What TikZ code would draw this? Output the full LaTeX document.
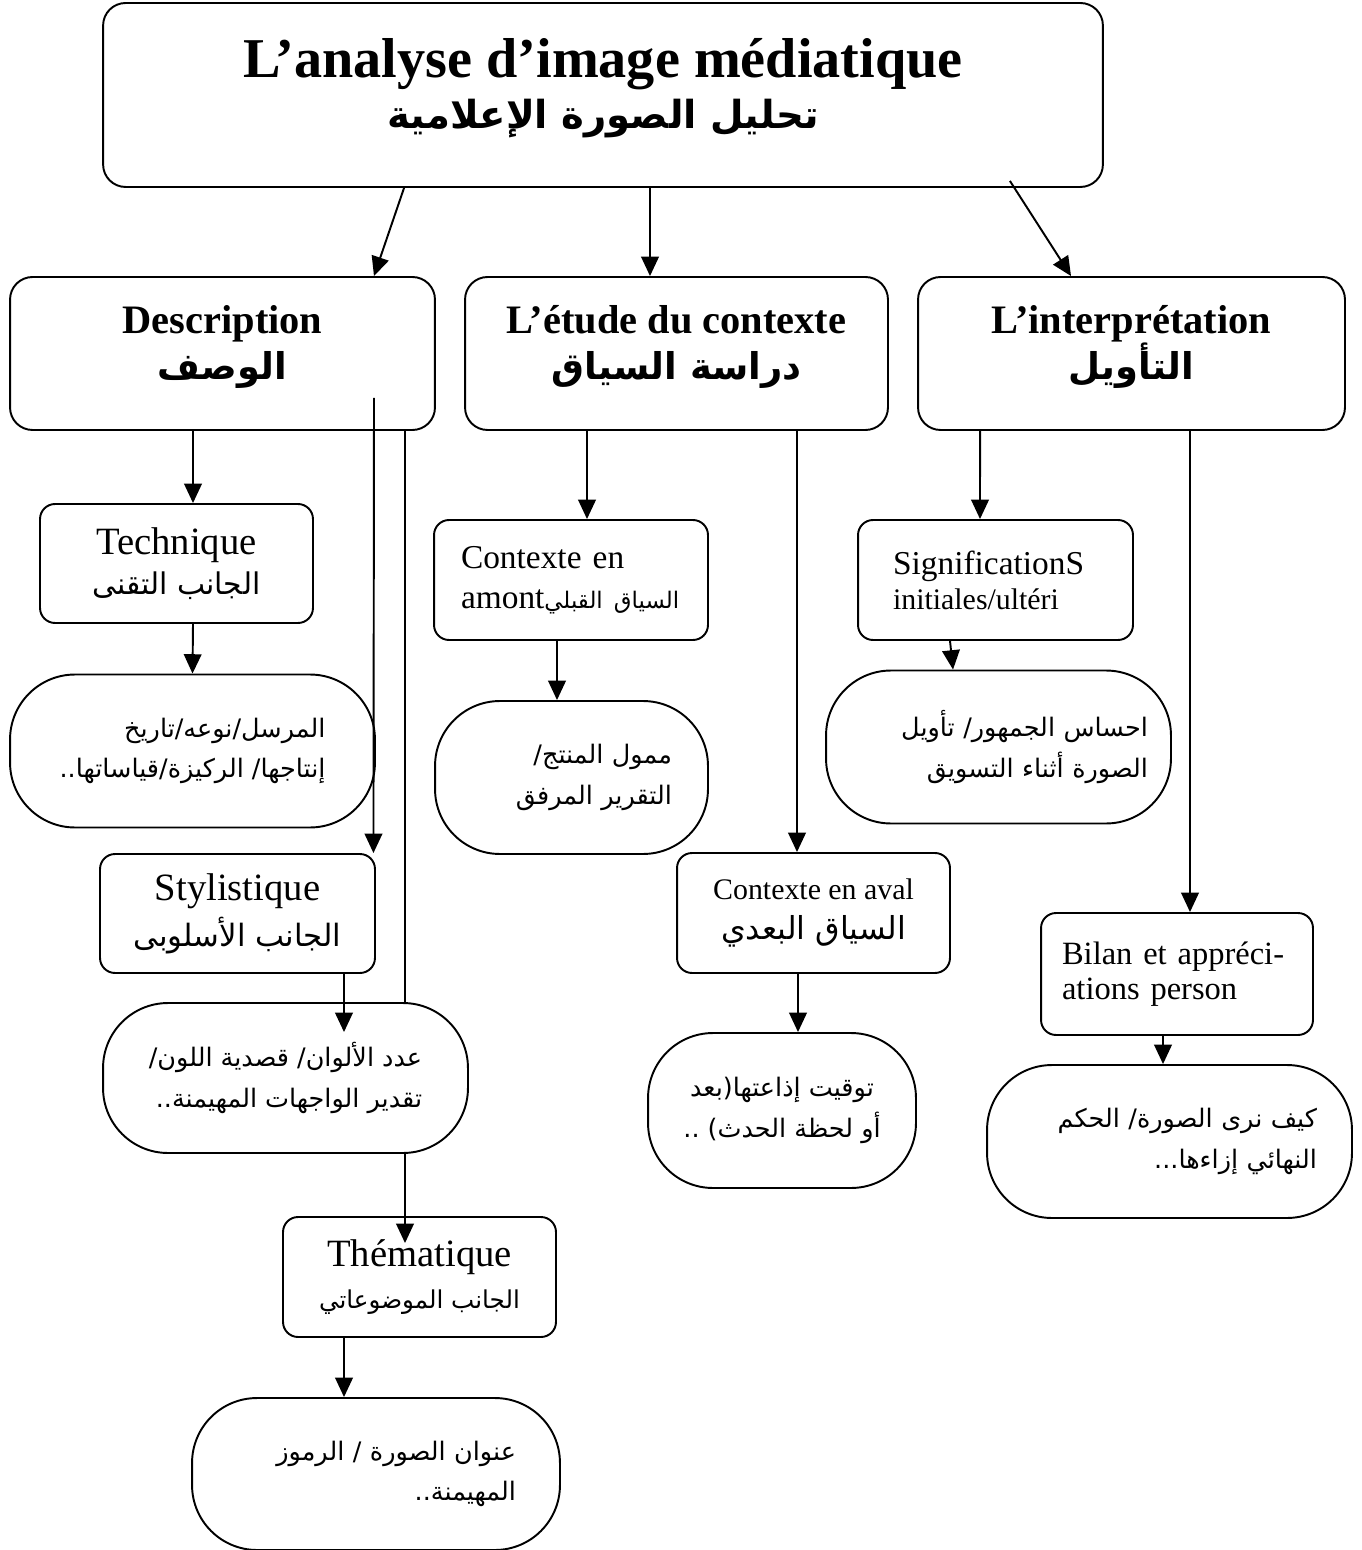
\documentclass[tikz,border=0pt]{standalone}
\usepackage{fontspec}
\setmainfont{Liberation Serif}
\newfontfamily\arabicfont[Script=Arabic]{DejaVu Sans}
\TeXXeTstate=1
\usetikzlibrary{arrows.meta}

\begin{document}
\begin{tikzpicture}[x=0.02cm,y=-0.02cm,
    box/.style={draw,line width=1.1pt,fill=white,inner sep=2pt},
    bigbox/.style={box,rounded corners=0.45cm,text depth=0.45cm},
    smallbox/.style={box,rounded corners=0.3cm,minimum width=5.46cm,minimum height=2.38cm},
    pill/.style={box,rounded corners=1.3cm,minimum height=3.06cm},
    artext/.style={font=\arabicfont\fontsize{14.5}{23}\selectfont},
    arr/.style={line width=1.1pt,-{Triangle[length=11pt,width=10pt]}}]
  \useasboundingbox (0,0) rectangle (1361,1550);

  \node[bigbox,minimum width=20cm,minimum height=3.68cm,align=center,
        font=\bfseries\fontsize{32}{29}\selectfont] (title) at (603,95)
    {L’analyse d’image médiatique\\
     {\arabicfont\fontsize{22}{29}\selectfont\beginR تحليل الصورة الإعلامية\endR}};

  \node[bigbox,minimum width=8.5cm,minimum height=3.06cm,align=center,
        font=\bfseries\fontsize{23}{26}\selectfont] (desc) at (222.5,353.5)
    {Description\\{\arabicfont\fontsize{21}{26}\selectfont\beginR الوصف\endR}};
  \node[bigbox,minimum width=8.46cm,minimum height=3.06cm,align=center,
        font=\bfseries\fontsize{23}{26}\selectfont] (etude) at (676.5,353.5)
    {L’étude du contexte\\{\arabicfont\fontsize{21}{26}\selectfont\beginR دراسة السياق\endR}};
  \node[bigbox,minimum width=8.54cm,minimum height=3.06cm,align=center,
        font=\bfseries\fontsize{23}{26}\selectfont] (interp) at (1131.5,353.5)
    {L’interprétation\\{\arabicfont\fontsize{21}{26}\selectfont\beginR التأويل\endR}};

  \node[smallbox,align=center,font=\fontsize{22}{23}\selectfont] (tech) at (176.5,563.5)
    {Technique\\{\arabicfont\fontsize{17}{23}\selectfont\beginR الجانب التقنى\endR}};
  \node[pill,minimum width=7.3cm,align=right,artext] (techd) at (192.5,751)
    {\beginR المرسل/نوعه/تاريخ\endR\\\beginR إنتاجها/ الركيزة/قياساتها..\endR};

  \node[smallbox,minimum width=5.5cm,align=center,font=\fontsize{22}{26}\selectfont] (styl) at (237.5,913.5)
    {Stylistique\\{\arabicfont\fontsize{17.5}{26}\selectfont\beginR الجانب الأسلوبى\endR}};
  \node[pill,minimum width=7.3cm,minimum height=3.0cm,align=right,artext] (styld) at (285.5,1078)
    {\beginR عدد الألوان/ قصدية اللون/\endR\\\beginR تقدير الواجهات المهيمنة..\endR};

  \node[smallbox,minimum height=2.4cm,align=center,font=\fontsize{22}{24}\selectfont] (them) at (419.5,1277)
    {Thématique\\{\arabicfont\fontsize{14}{24}\selectfont\beginR الجانب الموضوعاتي\endR}};
  \node[pill,minimum width=7.36cm,minimum height=3.04cm,text width=5.6cm,align=right,artext] (themd) at (376,1474)
    {\beginR عنوان الصورة / الرموز\endR\\\beginR المهيمنة..\endR};

  \node[smallbox,minimum width=5.48cm,minimum height=2.4cm,text width=4.4cm,align=left,
        font=\fontsize{19}{23}\selectfont] (amont) at (571,580)
    {Contexte en\\amont{\arabicfont\fontsize{13}{23}\selectfont\beginR السياق القبلي\endR}};
  \node[pill,minimum width=5.46cm,text width=4.02cm,align=right,artext] (amontd) at (571.5,777.5)
    {\beginR ممول المنتج/\endR\\\beginR التقرير المرفق\endR};

  \node[smallbox,minimum height=2.4cm,align=center,font=\fontsize{17}{23}\selectfont] (aval) at (813.5,913)
    {Contexte en aval\\{\arabicfont\fontsize{18}{23}\selectfont\beginR السياق البعدي\endR}};
  \node[pill,minimum width=5.36cm,minimum height=3.1cm,align=center,artext] (avald) at (782,1110.5)
    {\beginR توقيت إذاعتها(بعد\endR\\\beginR أو لحظة الحدث) ..\endR};

  \node[smallbox,minimum width=5.5cm,minimum height=2.4cm,text width=4.1cm,align=left,
        font=\fontsize{19}{20}\selectfont] (sign) at (995.5,580)
    {SignificationS\\{\fontsize{17}{20}\selectfont initiales/ultéri}};
  \node[pill,minimum width=6.9cm,text width=5.98cm,align=right,artext] (signd) at (998.5,747)
    {\beginR احساس الجمهور/ تأويل\endR\\\beginR الصورة أثناء التسويق\endR};

  \node[smallbox,minimum width=5.44cm,minimum height=2.44cm,text width=4.6cm,align=left,
        font=\fontsize{18.5}{20}\selectfont] (bilan) at (1177,974)
    {Bilan et appréci-\\ations person};
  \node[pill,minimum width=7.3cm,text width=5.9cm,align=right,artext] (biland) at (1169.5,1141.5)
    {\beginR كيف نرى الصورة/ الحكم\endR\\\beginR النهائي إزاءها...\endR};

  \coordinate (dstart) at (374,398);

  \draw[arr] ([xshift=-3.98cm]title.south) -- ([xshift=3.03cm]desc.north);
  \draw[arr] ([xshift=0.94cm]title.south) -- ([xshift=-0.53cm]etude.north);
  \draw[arr] ([xshift=8.14cm,yshift=0.14cm]title.south) -- ([xshift=-1.21cm]interp.north);

  \draw[arr] ([xshift=-0.59cm]desc.south) -- ([xshift=0.33cm]tech.north);
  \draw[arr] ([xshift=0.33cm]tech.south) -- (techd.north);
  \draw[arr] (dstart) -- ([xshift=-0.05cm]styl.north east);
  \draw[arr] ([xshift=2.13cm]styl.south) -- ([xshift=1.17cm,yshift=-0.6cm]styld.north);
  \draw[line width=1.1pt] ([xshift=3.65cm]desc.south) -- ([xshift=2.39cm]styld.north);
  \draw[arr] ([xshift=2.39cm]styld.south) -- ([xshift=-0.29cm,yshift=-0.54cm]them.north);
  \draw[arr] ([xshift=-1.51cm]them.south) -- ([xshift=-0.64cm]themd.north);

  \draw[arr] ([xshift=-1.79cm]etude.south) -- ([xshift=0.32cm]amont.north);
  \draw[arr] ([xshift=-0.28cm]amont.south) -- ([xshift=-0.29cm]amontd.north);
  \draw[arr] ([xshift=2.41cm]etude.south) -- ([xshift=-0.33cm]aval.north);
  \draw[arr] ([xshift=-0.31cm]aval.south) -- ([xshift=0.32cm]avald.north);

  \draw[arr] ([xshift=-3.03cm]interp.south) -- ([xshift=-0.31cm]sign.north);
  \draw[arr] ([xshift=-0.91cm]sign.south) -- ([xshift=-0.91cm]signd.north);
  \draw[arr] ([xshift=1.17cm]interp.south) -- ([xshift=0.26cm]bilan.north);
  \draw[arr] ([xshift=-0.28cm]bilan.south) -- ([xshift=-0.13cm]biland.north);
\end{tikzpicture}
\end{document}
